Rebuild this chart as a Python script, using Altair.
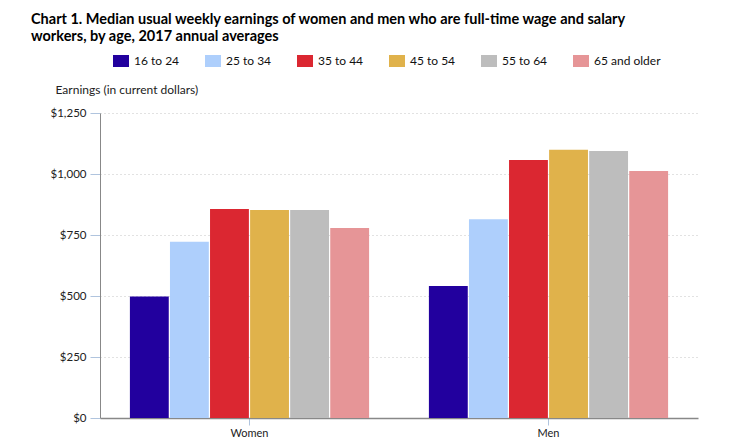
import altair as alt
import pandas as pd

sexes = ["Women", "Men"]
ages = ["16 to 24", "25 to 34", "35 to 44", "45 to 54", "55 to 64", "65 and older"]
women = [498, 722, 857, 852, 852, 779]
men = [541, 815, 1057, 1099, 1094, 1012]
colors = ["#22009e", "#aecffc", "#db2731", "#e0b24b", "#bdbdbd", "#e69597"]
y_ticks = [0, 250, 500, 750, 1000, 1250]

rows = []
for sex, vals in zip(sexes, [women, men]):
    for age, v in zip(ages, vals):
        rows.append({"sex": sex, "age": age, "earnings": v})
df = pd.DataFrame(rows)

FONT = "Lato"

chart = (
    alt.Chart(df)
    .mark_bar()
    .encode(
        x=alt.X(
            "sex:N",
            sort=sexes,
            title=None,
            scale=alt.Scale(paddingInner=0.2, paddingOuter=0.1),
            axis=alt.Axis(
                labelAngle=0,
                domainColor="#888888",
                domainWidth=1.5,
                tickColor="#b0c4de",
                tickSize=7,
                labelPadding=2,
                labelColor="#222222",
                labelFont=FONT,
                labelFontSize=11,
            ),
        ),
        xOffset=alt.XOffset("age:N", sort=ages, scale=alt.Scale(paddingInner=0.03)),
        y=alt.Y(
            "earnings:Q",
            scale=alt.Scale(domain=[0, 1250], nice=False),
            axis=alt.Axis(
                values=y_ticks,
                labelExpr="'$' + format(datum.value, ',')",
                title="Earnings (in current dollars)",
                titleAngle=0,
                titleX=-45,
                titleY=-24,
                titleAlign="left",
                titleBaseline="middle",
                titleFont=FONT,
                titleFontSize=12,
                titleFontWeight="normal",
                titleColor="#222222",
                domainColor="#888888",
                tickColor="#b0c4de",
                tickSize=10,
                labelPadding=4,
                labelColor="#222222",
                labelFont=FONT,
                labelFontSize=11.5,
                grid=True,
                gridColor="#c4c4c4",
                gridDash=[1, 3],
            ),
        ),
        color=alt.Color(
            "age:N",
            sort=ages,
            scale=alt.Scale(domain=ages, range=colors),
            legend=alt.Legend(
                title=None,
                orient="none",
                legendX=13,
                legendY=-60,
                direction="horizontal",
                columns=6,
                gridAlign="all",
                symbolType="M-1,-0.75H1V0.75H-1Z",
                symbolSize=256,
                symbolStrokeWidth=0,
                symbolOpacity=1,
                labelOffset=5,
                columnPadding=4,
                labelFont=FONT,
                labelFontSize=12,
                labelColor="#111111",
            ),
        ),
    )
    .properties(
        width=598,
        height=305,
        autosize=alt.AutoSizeParams(type="none"),
        padding={"left": 92, "top": 105, "right": 21, "bottom": 21},
        title=alt.TitleParams(
            text=[
                "Chart 1. Median usual weekly earnings of women and men who are full-time wage and salary",
                "workers, by age, 2017 annual averages",
            ],
            anchor="start",
            frame="group",
            dx=-69,
            dy=1,
            font=FONT,
            fontSize=14.5,
            fontWeight="bold",
            color="#000000",
            lineHeight=17,
            offset=10,
        ),
    )
    .configure_view(stroke=None)
)

chart.save("out.html", embed_options={"renderer": "svg", "actions": False})
